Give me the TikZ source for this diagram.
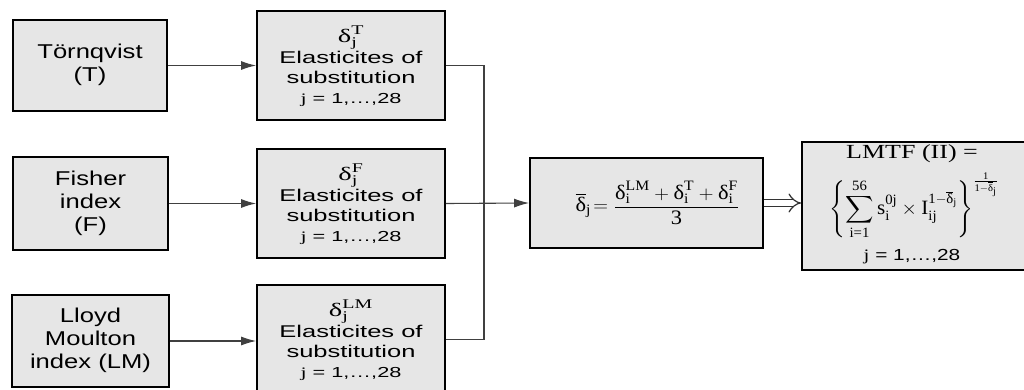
\documentclass[tikz,border=0pt]{standalone}
\usepackage{amsmath}
\usepackage{graphicx}
\usepackage{fontspec}
\setmainfont{Liberation Sans}
\newfontfamily\tms{Liberation Serif}
\usetikzlibrary{arrows.meta}
\definecolor{boxgray}{HTML}{E6E6E6}
\newcommand\tm[1]{\text{\tms #1}}
\newcommand\dl{\tm{δ}}
\newcommand\dlb{\overline{\dl}}
\newcommand\sx[2]{\scalebox{#1}[1]{\begin{tabular}{@{}c@{}}#2\end{tabular}}}
\begin{document}
\begin{tikzpicture}[x=1pt,y=-1pt,
  box/.style={draw=black, line width=1.8pt, fill=boxgray, inner sep=0pt, align=center},
  conn/.style={draw=black!75, line width=1.1pt},
  arr/.style={conn, -{Latex[length=15pt,width=9pt]}},
  dbl/.style={draw=black!80, line width=1.2pt, double=white, double distance=5.5pt, -{Implies}},
  lefttxt/.style={font=\fontsize{20}{23}\selectfont},
  midtxt/.style={font=\fontsize{17}{20}\selectfont}]
\useasboundingbox (0,0) rectangle (1024,390);
\clip (0,0) rectangle (1024,390);
% left boxes
\node[box, lefttxt, minimum width=154pt, minimum height=91pt] (lt) at (90,65.5) {\sx{1.28}{Törnqvist\\(T)}};
\node[box, lefttxt, minimum width=155pt, minimum height=93pt] (lf) at (90.5,203.5) {\sx{1.28}{Fisher\\index\\(F)}};
\node[box, lefttxt, minimum width=157pt, minimum height=92pt] (ll) at (90.5,341) {\sx{1.28}{Lloyd\\Moulton\\index (LM)}};
% middle boxes
\node[box, midtxt, minimum width=188pt, minimum height=109pt] (mt) at (351,65.5) {\sx{1.5}{\rule{0pt}{21pt}{\fontsize{19}{20}\selectfont$\dl^{\tm{T}}_{\tm{j}}$}\\Elasticites of\\substitution\\{\fontsize{14.5}{20}\selectfont$\tm{j}$ = 1,…,28}}};
\node[box, midtxt, minimum width=188pt, minimum height=109pt] (mf) at (351,203.5) {\sx{1.5}{\rule{0pt}{21pt}{\fontsize{19}{20}\selectfont$\dl^{\tm{F}}_{\tm{j}}$}\\Elasticites of\\substitution\\{\fontsize{14.5}{20}\selectfont$\tm{j}$ = 1,…,28}}};
\node[box, midtxt, minimum width=188pt, minimum height=109pt] (ml) at (351,339.5) {\sx{1.5}{\rule{0pt}{21pt}{\fontsize{19}{20}\selectfont$\dl^{\tm{LM}}_{\tm{j}}$}\\Elasticites of\\substitution\\{\fontsize{14.5}{20}\selectfont$\tm{j}$ = 1,…,28}}};
% centre box
\node[box, font=\fontsize{19}{22}\selectfont, minimum width=233pt, minimum height=90pt] (c) at (646.5,203) {\hspace*{22pt}\scalebox{1.18}[1.08]{$\dlb_{\tm{j}}\!= \dfrac{\dl^{\tm{LM}}_{\tm{i}}+\dl^{\tm{T}}_{\tm{i}}+\dl^{\tm{F}}_{\tm{i}}}{\tm{3}}$}};
% right box
\node[box, minimum width=240pt, minimum height=128pt] (r) at (922,206) {};
\node[font=\fontsize{20}{23}\selectfont\tms] (r1) at (912,154) {\scalebox{1.3}[1]{LMTF (II) =}};
\node[font=\fontsize{18.5}{20}\selectfont] (r2) at (914,206) {\scalebox{1.14}[1.1]{$\displaystyle\left\{\sum_{\tm{i=1}}^{\tm{56}} \tm{s}^{\tm{0j}}_{\tm{i}}\times\tm{I}^{\tm{1}-\dlb_{\tm{j}}}_{\tm{ij}}\right\}^{\frac{\tm{1}}{\tm{1}-\dlb_{\tm{j}}}}$}};
\node[font=\fontsize{16}{20}\selectfont] (r3) at (912,257) {\scalebox{1.3}[1]{$\tm{j}$ = 1,…,28}};
% connectors
\coordinate (J) at (484,203.5);
\draw[arr] (lt) -- (mt);
\draw[arr] (lf) -- (mf);
\draw[arr] (ll.east) -- (ll.east -| ml.west);
\draw[conn] (mt.east) -| (J);
\draw[conn] (ml.east) -| (J);
\draw[arr] (mf.east) -- (c.west);
\draw[dbl] (c.east) -- (c.east -| r.west);
\end{tikzpicture}
\end{document}
